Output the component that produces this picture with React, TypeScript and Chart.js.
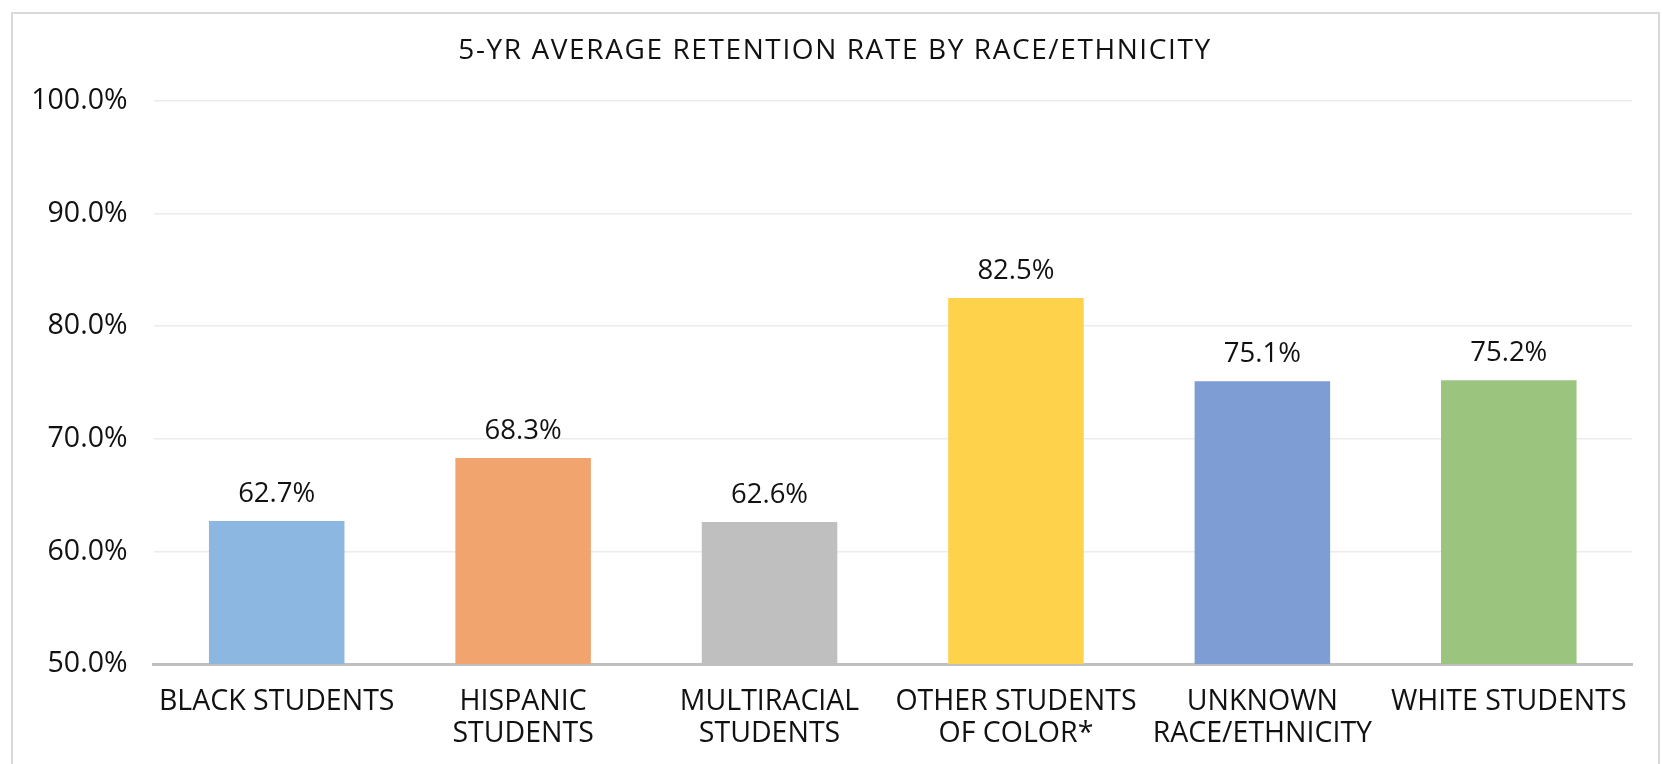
import React, { useEffect, useRef } from "react";
import { Chart, registerables } from "chart.js";

Chart.register(...registerables);

const chartTitle = "5-YR AVERAGE RETENTION RATE BY RACE/ETHNICITY";
const categories: string[][] = [
  ["BLACK STUDENTS"],
  ["HISPANIC", "STUDENTS"],
  ["MULTIRACIAL", "STUDENTS"],
  ["OTHER STUDENTS", "OF COLOR*"],
  ["UNKNOWN", "RACE/ETHNICITY"],
  ["WHITE STUDENTS"],
];
const retentionRates = [62.7, 68.3, 62.6, 82.5, 75.1, 75.2];
const barColors = ["#8CB7E0", "#F2A46F", "#BFBFBF", "#FFD24C", "#7D9DD4", "#9BC47E"];
const yMin = 50;
const yMax = 100;
const yStep = 10;

const FONT = "'Open Sans', 'Noto Sans', sans-serif";

export default function App() {
  const ref = useRef<HTMLCanvasElement | null>(null);

  useEffect(() => {
    if (!ref.current) return;

    const framePlugin = {
      id: "frame",
      beforeDraw(chart: any) {
        const ctx = chart.ctx;
        ctx.save();
        ctx.fillStyle = "#ffffff";
        ctx.fillRect(0, 0, chart.width, chart.height);
        ctx.strokeStyle = "#D9D9D9";
        ctx.lineWidth = 2;
        ctx.strokeRect(12, 13, 1647, 800);
        ctx.restore();
      },
    };

    const titlePlugin = {
      id: "customTitle",
      afterDraw(chart: any) {
        const ctx = chart.ctx;
        ctx.save();
        (ctx as any).letterSpacing = "1.6px";
        ctx.font = `28px ${FONT}`;
        ctx.fillStyle = "#111111";
        ctx.textAlign = "center";
        ctx.textBaseline = "middle";
        ctx.fillText(chartTitle, 835, 51);
        ctx.restore();
      },
    };

    const labelPlugin = {
      id: "valueLabels",
      afterDatasetsDraw(chart: any) {
        const ctx = chart.ctx;
        const meta = chart.getDatasetMeta(0);
        ctx.save();
        ctx.font = `27.5px ${FONT}`;
        ctx.fillStyle = "#111111";
        ctx.textAlign = "center";
        ctx.textBaseline = "middle";
        meta.data.forEach((bar: any, i: number) => {
          ctx.fillText(retentionRates[i].toFixed(1) + "%", bar.x, bar.y - 27);
        });
        ctx.restore();
      },
    };

    const chart = new Chart(ref.current, {
      type: "bar",
      data: {
        labels: categories,
        datasets: [
          {
            data: retentionRates,
            backgroundColor: barColors,
            borderWidth: 0,
            barPercentage: 0.55,
            categoryPercentage: 1,
          },
        ],
      },
      options: {
        responsive: false,
        animation: false,
        devicePixelRatio: 1,
        layout: { padding: { top: 101, right: 30, bottom: 0, left: 0 } },
        plugins: {
          legend: { display: false },
          title: { display: false },
          tooltip: { enabled: false },
        },
        scales: {
          y: {
            min: yMin,
            max: yMax,
            ticks: {
              stepSize: yStep,
              padding: 26,
              color: "#111111",
              font: { family: FONT, size: 28.5 },
              callback: (v: any) => Number(v).toFixed(1) + "%",
            },
            grid: { color: "#EBEBEB", lineWidth: 1.5, drawTicks: false },
            border: { display: false },
            afterFit: (axis: any) => {
              axis.width = 153.5;
            },
          },
          x: {
            ticks: {
              color: "#111111",
              font: { family: FONT, size: 28.5, lineHeight: 1.11 },
              padding: 22,
              maxRotation: 0,
              autoSkip: false,
            },
            grid: { display: false, drawTicks: false },
            border: { display: true, color: "#BFBFBF", width: 3 },
            afterFit: (axis: any) => {
              axis.height = 100;
            },
          },
        },
      },
      plugins: [framePlugin, labelPlugin, titlePlugin],
    } as any);

    return () => chart.destroy();
  }, []);

  return (
    <div style={{ position: "fixed", left: 0, top: 0, width: 1662, height: 764, overflow: "hidden", background: "#fff" }}>
      <canvas ref={ref} width={1662} height={764} style={{ display: "block" }} />
    </div>
  );
}
